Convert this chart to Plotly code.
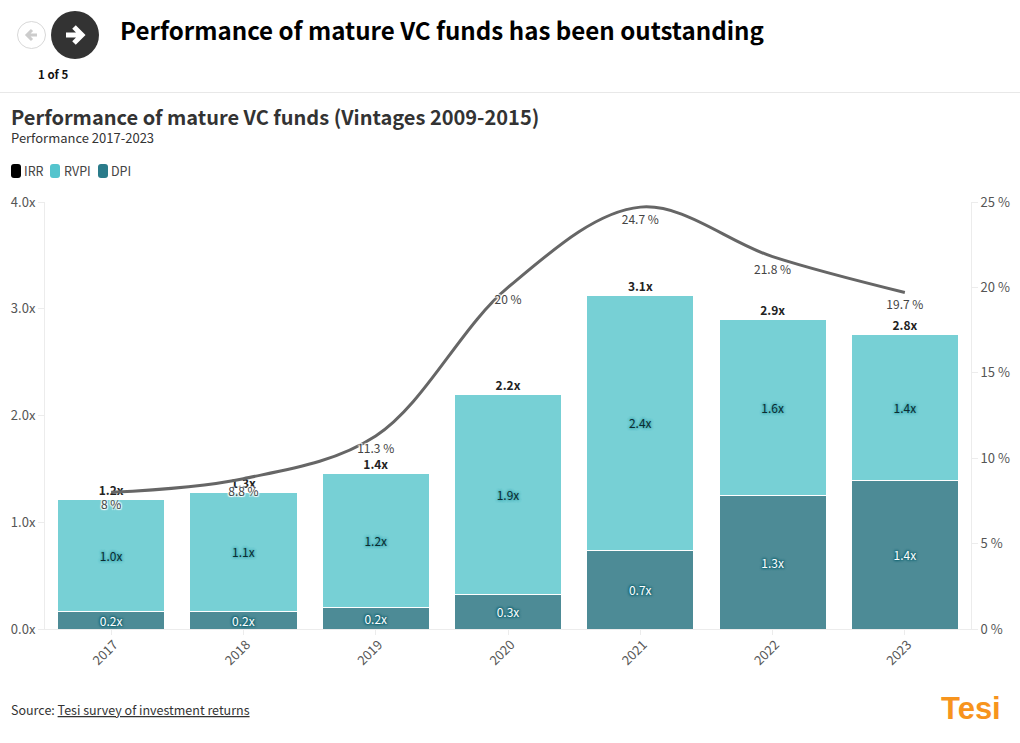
import plotly.graph_objects as go

years = ["2017", "2018", "2019", "2020", "2021", "2022", "2023"]
dpi = [0.165, 0.165, 0.20, 0.32, 0.74, 1.25, 1.39]
rvpi = [1.045, 1.115, 1.26, 1.88, 2.38, 1.65, 1.37]
totals = [1.21, 1.28, 1.46, 2.20, 3.12, 2.90, 2.76]
irr = [8, 8.8, 11.3, 20, 24.7, 21.8, 19.7]
dpi_labels = ["0.2x", "0.2x", "0.2x", "0.3x", "0.7x", "1.3x", "1.4x"]
rvpi_labels = ["1.0x", "1.1x", "1.2x", "1.9x", "2.4x", "1.6x", "1.4x"]
total_labels = ["1.2x", "1.3x", "1.4x", "2.2x", "3.1x", "2.9x", "2.8x"]
irr_labels = ["8 %", "8.8 %", "11.3 %", "20 %", "24.7 %", "21.8 %", "19.7 %"]
y_ticks = [0, 1, 2, 3, 4]
y_tick_labels = ["0.0x", "1.0x", "2.0x", "3.0x", "4.0x"]
y2_ticks = [0, 5, 10, 15, 20, 25]
y2_tick_labels = ["0 %", "5 %", "10 %", "15 %", "20 %", "25 %"]

FONT = "Noto Sans CJK JP, Noto Sans, sans-serif"
W, H = 1020, 743
L, R, T, B = 45, 971, 202, 629

def fx(x):
    return (x - L) / (R - L)

def fy(y):
    return (B - y) / (B - T)

fig = go.Figure()
fig.add_bar(x=years, y=dpi, name="DPI", marker=dict(color="#4d8b96", line=dict(color="#ffffff", width=1)),
            text=dpi_labels, textposition="inside", insidetextanchor="middle", constraintext="none",
            textangle=0,
            textfont=dict(family=FONT, size=12, color="#ffffff",
                          shadow="1px 1px 2px #1a6a78, -1px -1px 2px #1a6a78, 1px -1px 2px #1a6a78, -1px 1px 2px #1a6a78"))
fig.add_bar(x=years, y=rvpi, name="RVPI", marker=dict(color="#77d0d5", line=dict(color="#ffffff", width=1)),
            text=rvpi_labels, textposition="inside", insidetextanchor="middle", constraintext="none",
            textangle=0,
            textfont=dict(family=FONT, size=12, color="#0d2b30",
                          shadow="0 0 3px #3fa9b2, 0 0 3px #3fa9b2, 0 0 3px #3fa9b2"))
fig.add_scatter(x=years, y=irr, yaxis="y2", mode="lines", name="IRR",
                line=dict(color="#666666", width=3, shape="spline", smoothing=1.0))
fig.add_scatter(x=years, y=irr, yaxis="y2", mode="markers+text", name="IRR labels",
                marker=dict(size=11, opacity=0),
                text=irr_labels, textposition="bottom center",
                textfont=dict(family=FONT, size=12, color="#444444",
                              shadow="1px 1px 1px #fff, -1px -1px 1px #fff, 1px -1px 1px #fff, -1px 1px 1px #fff"))
fig.add_scatter(x=years, y=totals, mode="markers+text", text=total_labels, textposition="top center",
                marker=dict(size=1, opacity=0),
                textfont=dict(family=FONT, size=12, color="#222222", weight="bold"), name="Total")

shapes = [
    dict(type="line", xref="paper", yref="paper", x0=fx(0), x1=fx(W), y0=fy(92.5), y1=fy(92.5),
         line=dict(color="#e8e8e8", width=1)),
    dict(type="circle", xref="paper", yref="paper", x0=fx(17.5), x1=fx(45.5), y0=fy(21.5), y1=fy(48.5),
         line=dict(color="#d8d8d8", width=1), fillcolor="#ffffff"),
    dict(type="circle", xref="paper", yref="paper", x0=fx(51), x1=fx(99), y0=fy(11), y1=fy(59),
         line=dict(width=0), fillcolor="#333333"),
]

def c(a, b):
    return f"{fx(a)} {fy(b)}"

def swatch(x0, color):
    x1, y0, y1, r = x0 + 10, 164, 178, 3
    path = (f"M {c(x0 + r, y0)} L {c(x1 - r, y0)} Q {c(x1, y0)} {c(x1, y0 + r)} "
            f"L {c(x1, y1 - r)} Q {c(x1, y1)} {c(x1 - r, y1)} L {c(x0 + r, y1)} "
            f"Q {c(x0, y1)} {c(x0, y1 - r)} L {c(x0, y0 + r)} Q {c(x0, y0)} {c(x0 + r, y0)} Z")
    return dict(type="path", xref="paper", yref="paper", path=path, fillcolor=color, line=dict(width=0))

shapes += [swatch(11, "#000000"), swatch(50, "#54c4cd"), swatch(98, "#2a7b8a")]

def arrow(x0, x1, xm, y, h, color, width):
    shaft = f"M {c(x0, y)} L {c(x1, y)}"
    head = f"M {c(xm, y - h)} L {c(x1, y)} L {c(xm, y + h)}"
    return dict(type="path", xref="paper", yref="paper", path=shaft + " " + head,
                line=dict(color=color, width=width))

shapes += [arrow(66, 82, 74, 35, 8, "#ffffff", 5), arrow(37, 27, 32, 35, 5, "#cccccc", 3)]

def note(x, y, text, size, color="#333333", bold=False, anchor="left", family=FONT):
    return dict(xref="paper", yref="paper", x=fx(x), y=fy(y), text=f"<b>{text}</b>" if bold else text,
                showarrow=False, xanchor=anchor, yanchor="middle", xshift=0, borderpad=0, borderwidth=0,
                font=dict(family=family, size=size, color=color))

annotations = [
    note(120, 29.5, "Performance of mature VC funds has been outstanding", 24.1, "#000000", True),
    note(10.5, 116.5, "Performance of mature VC funds (Vintages 2009-2015)", 20, "#333333", True),
    note(10.5, 137.5, "Performance 2017-2023", 13, "#333333"),
    note(24, 171, "IRR", 12.5, "#444444"),
    note(64, 171, "RVPI", 12.5, "#444444"),
    note(111, 171, "DPI", 12.5, "#444444"),
    note(52.5, 73.5, "1 of 5", 11.5, "#111111", True, "center"),
    note(10.5, 709.5, "Source: <u>Tesi survey of investment returns</u>", 12.5, "#333333"),
    note(971, 708, "Tesi", 31, "#f7941d", True, "center", "Liberation Sans"),
]

axis_common = dict(showgrid=False, zeroline=False, showline=True, linecolor="#ececec", linewidth=1,
                   ticks="outside", tickcolor="#ececec", ticklen=6,
                   tickfont=dict(family=FONT, size=13, color="#555555"))

fig.update_layout(
    width=W, height=H, autosize=False, barmode="stack", bargap=0.19, showlegend=False,
    paper_bgcolor="#ffffff", plot_bgcolor="#ffffff",
    margin=dict(l=L, r=W - R, t=T, b=H - B, pad=0, autoexpand=False),
    xaxis=dict(type="category", tickangle=-45, ticklabelstandoff=-3, ticklabelshift=3,
               **{**axis_common, "ticklen": 5}),
    yaxis=dict(range=[0, 4], tickvals=y_ticks, ticktext=y_tick_labels, **axis_common),
    yaxis2=dict(range=[0, 25], overlaying="y", side="right", tickvals=y2_ticks, ticktext=y2_tick_labels,
                **axis_common),
    shapes=shapes, annotations=annotations,
)

fig.write_html("out.html", config={"displayModeBar": False},
               post_script="document.body.style.margin='0';document.body.style.overflow='hidden';")
